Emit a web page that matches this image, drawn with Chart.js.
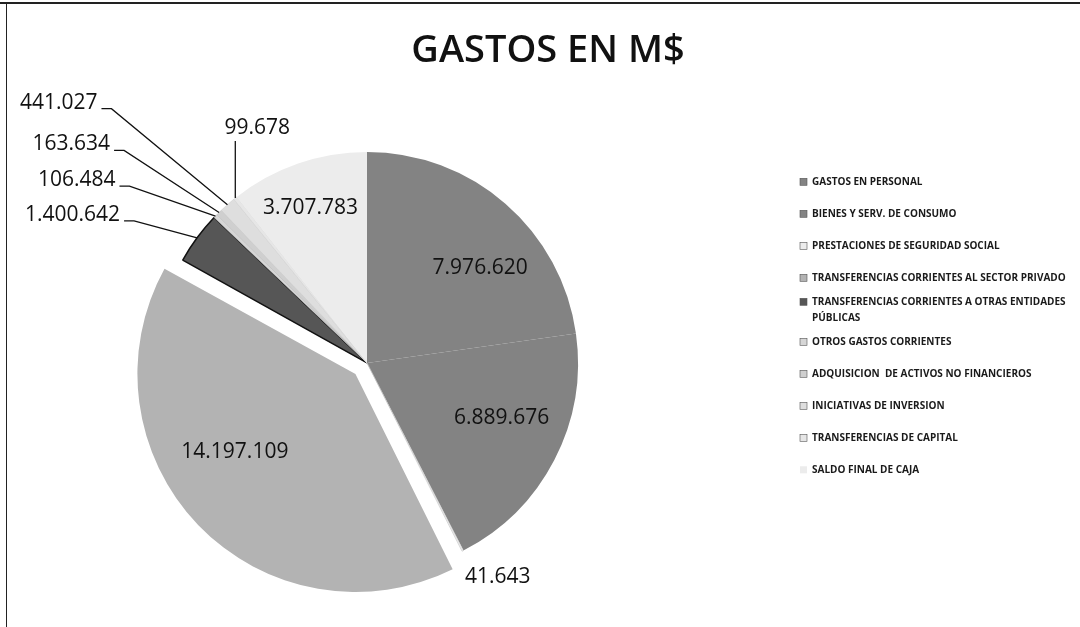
<!DOCTYPE html>
<html>
<head>
<meta charset="utf-8">
<script src="https://cdn.jsdelivr.net/npm/chart.js@4.4.1/dist/chart.umd.min.js"></script>
<style>
  html, body { margin: 0; padding: 0; background: #fff; }
  #wrap { position: relative; width: 1080px; height: 627px; overflow: hidden; }
  #c { position: absolute; left: 0; top: 0; }
  .frameTop { position: absolute; left: 0; top: 2px; width: 1080px; height: 2px; background: #222; }
  .frameLeft { position: absolute; left: 6px; top: 2px; width: 1px; height: 625px; background: #222; }
</style>
</head>
<body>
<div id="wrap">
  <canvas id="c" width="1080" height="627"></canvas>
  <div class="frameTop"></div>
  <div class="frameLeft"></div>
</div>
<script>
// ---------------- DATA ----------------
const chartTitle = 'GASTOS EN M$';
const categories = [
  'GASTOS EN PERSONAL',
  'BIENES Y SERV. DE CONSUMO',
  'PRESTACIONES DE SEGURIDAD SOCIAL',
  'TRANSFERENCIAS CORRIENTES AL SECTOR PRIVADO',
  'TRANSFERENCIAS CORRIENTES A OTRAS ENTIDADES PÚBLICAS',
  'OTROS GASTOS CORRIENTES',
  'ADQUISICION  DE ACTIVOS NO FINANCIEROS',
  'INICIATIVAS DE INVERSION',
  'TRANSFERENCIAS DE CAPITAL',
  'SALDO FINAL DE CAJA'
];
const values = [7976620, 6889676, 41643, 14197109, 1400642, 106484, 163634, 441027, 99678, 3707783];
const valueLabels = values.map(v => String(v).replace(/\B(?=(\d{3})+(?!\d))/g, '.'));

// ---------------- STYLE ----------------
const sliceColors  = ['#838383', '#838383', '#ededed', '#b3b3b3', '#565656', '#d6d6d6', '#cfcfcf', '#dedede', '#e6e6e6', '#ececec'];
const sliceBorders = ['#838383', '#838383', '#bbbbbb', '#b3b3b3', '#111111', '#bbbbbb', '#bbbbbb', '#c8c8c8', '#d0d0d0', '#ececec'];
const sliceBorderW = [0, 0, 0.5, 0, 1.5, 0.5, 0.5, 0.5, 0.5, 0];
const sliceOffsets = [0, 0, 0, 64, 0, 0, 0, 0, 0, 0];

const FONT = '"Open Sans", "DejaVu Sans", sans-serif';
const labelStyle = [
  { mode: 'in', rr: 0.70, da: 9 },
  { mode: 'in', rr: 0.69, da: -5 },
  { mode: 'out', dx: 35, dy: 26, align: 'center', leader: 'none' },
  { mode: 'in', rr: 0.68, da: 11 },
  { mode: 'out', dx: -77, dy: -23, align: 'right', leader: 'elbow' },
  { mode: 'out', dx: -100, dy: -36, align: 'right', leader: 'elbow' },
  { mode: 'out', dx: -109, dy: -68, align: 'right', leader: 'elbow' },
  { mode: 'out', dx: -130, dy: -102, align: 'right', leader: 'elbow' },
  { mode: 'out', dx: 22, dy: -70, align: 'center', leader: 'vertical' },
  { mode: 'in', rr: 0.78, da: -1 }
];

const sliceLabelPlugin = {
  id: 'sliceLabels',
  afterDatasetsDraw(chart) {
    const ctx = chart.ctx;
    const meta = chart.getDatasetMeta(0);
    ctx.save();
    ctx.font = '21px ' + FONT;
    ctx.fillStyle = '#111';
    ctx.strokeStyle = '#111';
    ctx.lineWidth = 1.3;
    meta.data.forEach((arc, i) => {
      const p = arc.getProps(['x', 'y', 'startAngle', 'endAngle', 'outerRadius'], true);
      const st = labelStyle[i];
      const mid = (p.startAngle + p.endAngle) / 2;
      const shift = (sliceOffsets[i] || 0) / 4;
      const cx = p.x + Math.cos(mid) * shift;
      const cy = p.y + Math.sin(mid) * shift;
      const text = valueLabels[i];
      if (st.mode === 'in') {
        const a = mid + st.da * Math.PI / 180;
        const r = p.outerRadius * st.rr;
        ctx.textAlign = 'center';
        ctx.textBaseline = 'middle';
        ctx.fillText(text, cx + Math.cos(a) * r, cy + Math.sin(a) * r);
      } else {
        const ax = cx + Math.cos(mid) * p.outerRadius;
        const ay = cy + Math.sin(mid) * p.outerRadius;
        const tx = ax + st.dx, ty = ay + st.dy;
        ctx.textAlign = st.align;
        ctx.textBaseline = 'middle';
        ctx.fillText(text, tx, ty);
        ctx.beginPath();
        if (st.leader === 'elbow') {
          ctx.moveTo(tx + 4, ty + 6);
          ctx.lineTo(tx + 14, ty + 6);
          ctx.lineTo(ax, ay);
        } else if (st.leader === 'vertical') {
          ctx.moveTo(ax, ty + 13);
          ctx.lineTo(ax, ay);
        }
        ctx.stroke();
      }
    });
    ctx.restore();
  }
};

function wrapText(ctx, text, maxW) {
  const words = text.split(' ');
  const lines = [];
  let cur = '';
  words.forEach(w => {
    const test = cur ? cur + ' ' + w : w;
    if (cur && ctx.measureText(test).width > maxW) { lines.push(cur); cur = w; }
    else cur = test;
  });
  if (cur) lines.push(cur);
  return lines;
}

function makeLegendBox(chart) {
  return {
    position: 'right',
    weight: 0,
    fullSize: false,
    options: { display: true, stackWeight: 1 },
    isHorizontal() { return false; },
    update(maxWidth, maxHeight) { this.width = 362; this.height = maxHeight; },
    getPadding() { return { left: 0, right: 0, top: 0, bottom: 0 }; },
    draw() {
      const ctx = chart.ctx;
      ctx.save();
      ctx.font = '700 10px ' + FONT;
      ctx.textBaseline = 'middle';
      ctx.textAlign = 'left';
      const markX = this.left + 82;
      const textX = this.left + 94;
      const pitch = 32;
      const lineH = 16;
      let y = this.top + 83;
      categories.forEach((cat, i) => {
        const lines = wrapText(ctx, cat, 1074 - textX);
        const y0 = y - (lines.length - 1) * lineH / 2;
        ctx.fillStyle = sliceColors[i];
        ctx.fillRect(markX, y0 - 3.5, 7, 7);
        if (i !== categories.length - 1) {
          ctx.strokeStyle = '#555';
          ctx.lineWidth = 0.6;
          ctx.strokeRect(markX, y0 - 3.5, 7, 7);
        }
        ctx.fillStyle = '#1a1a1a';
        lines.forEach((ln, k) => ctx.fillText(ln, textX, y0 + k * lineH));
        y += pitch;
      });
      ctx.restore();
    }
  };
}

const legendBoxPlugin = {
  id: 'legendBox',
  start(chart) {
    Chart.layouts.addBox(chart, makeLegendBox(chart));
  }
};

new Chart(document.getElementById('c'), {
  type: 'pie',
  data: {
    labels: categories,
    datasets: [{
      data: values,
      backgroundColor: sliceColors,
      borderColor: sliceBorders,
      borderWidth: sliceBorderW,
      offset: sliceOffsets,
      radius: 211
    }]
  },
  options: {
    responsive: false,
    animation: false,
    layout: { padding: { left: 16, right: 0, top: 0, bottom: 0 } },
    plugins: {
      legend: { display: false },
      tooltip: { enabled: false },
      title: {
        display: true,
        text: chartTitle,
        color: '#111',
        font: { family: FONT, size: 38, weight: '600', lineHeight: 1.2 },
        padding: { top: 28, bottom: 25.2 }
      }
    }
  },
  plugins: [legendBoxPlugin, sliceLabelPlugin]
});
</script>
</body>
</html>
